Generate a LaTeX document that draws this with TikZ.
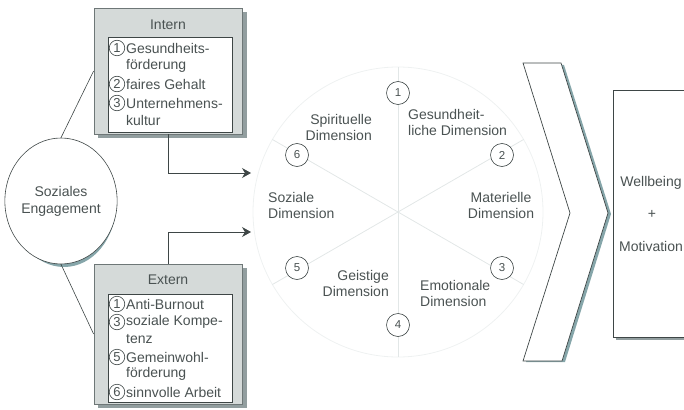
\documentclass[tikz,border=0pt]{standalone}
\usepackage{fontspec}
\setmainfont{Liberation Sans}
\usetikzlibrary{arrows.meta,shapes.geometric}
\definecolor{txt}{HTML}{4A5252}
\definecolor{ln}{HTML}{3E4646}
\definecolor{boxfill}{HTML}{D5DAD9}
\definecolor{boxedge}{HTML}{6E7777}
\definecolor{shad}{HTML}{929E9F}
\definecolor{eshad}{HTML}{86A6AA}
\definecolor{faint}{HTML}{EEF1F1}
\definecolor{spoke}{HTML}{E2E7E7}
\begin{document}
\begin{tikzpicture}[x=1pt,y=-1pt,
  outerbox/.style={draw=boxedge,line width=0.8pt,fill=boxfill,minimum width=#1},
  innerbox/.style={draw=ln,line width=0.7pt,fill=white,minimum width=#1},
  itemtxt/.style={text=txt,font=\fontsize{14}{16}\selectfont,anchor=west,inner sep=0pt},
  itemnum/.style={circle,draw=ln,line width=0.6pt,fill=white,text=txt,font=\fontsize{13}{13}\selectfont,inner sep=0pt,minimum size=15.5pt},
  wheelnum/.style={circle,draw=ln,line width=0.6pt,fill=white,text=txt,font=\fontsize{11.5}{11.5}\selectfont,inner sep=0pt,minimum size=23pt},
  dimtxt/.style={text=txt,font=\fontsize{14}{16}\selectfont,inner sep=0pt},
  title/.style={text=txt,font=\fontsize{14}{16}\selectfont,inner sep=0pt},
  conn/.style={draw=ln,line width=0.9pt},
  tip/.style={-{Stealth[length=9pt,width=10pt]}}
]
\useasboundingbox (0,0) rectangle (684,409);

% ---------- Intern box ----------
\fill[shad] (98,12) rectangle (247,138);
\node[outerbox=148pt,minimum height=126pt] (intern) at (168,71) {};
\node[innerbox=124pt,minimum height=95pt] (interni) at (170,84.5) {};
\node[title] (interntitle) at (168,25) {Intern};
\node[itemnum] (i1) at (117,48) {1};
\node[itemtxt] (i1a) at (126,48) {Gesundheits-};
\node[itemtxt] (i1b) at (126,66) {förderung};
\node[itemnum] (i2) at (117,84) {2};
\node[itemtxt] (i2a) at (126,84) {faires Gehalt};
\node[itemnum] (i3) at (117,103) {3};
\node[itemtxt] (i3a) at (126,103) {Unternehmens-};
\node[itemtxt] (i3b) at (126,120) {kultur};

% ---------- Extern box ----------
\fill[shad] (98,268) rectangle (247,408);
\node[outerbox=148pt,minimum height=140pt] (extern) at (168,334) {};
\node[innerbox=124pt,minimum height=108pt] (externi) at (170,348) {};
\node[title] (externtitle) at (168,280) {Extern};
\node[itemnum] (e1) at (117,304) {1};
\node[itemtxt] (e1a) at (126,304) {Anti-Burnout};
\node[itemnum] (e3) at (117,322) {3};
\node[itemtxt] (e3a) at (126,322) {soziale Kompe-};
\node[itemtxt] (e3b) at (126,339) {tenz};
\node[itemnum] (e5) at (117,357) {5};
\node[itemtxt] (e5a) at (126,357) {Gemeinwohl-};
\node[itemtxt] (e5b) at (126,374) {förderung};
\node[itemnum] (e6) at (117,392) {6};
\node[itemtxt] (e6a) at (126,392) {sinnvolle Arbeit};

% ---------- Ellipse ----------
\fill[eshad] (64,204) ellipse (52pt and 63pt);
\node[ellipse,draw=ln,line width=0.6pt,fill=white,minimum width=104pt,minimum height=126pt,inner sep=0pt,
      align=center,text=txt,font=\fontsize{14}{17}\selectfont] (ell) at (61,201) {Soziales\\Engagement};
\draw[ln,line width=0.6pt] (ell.north) -- (intern.west);
\draw[ln,line width=0.6pt] (ell.south) -- (extern.west);

% ---------- Connectors ----------
\coordinate (tipA) at (251,173);
\coordinate (tipB) at (251,232);
\draw[conn,tip] (intern.south) |- (tipA);
\draw[conn,tip] (extern.north) |- (tipB);

% ---------- Wheel ----------
\coordinate (c) at (398,212);
\draw[faint,line width=0.8pt] (c) circle (145pt);
\foreach \a in {90,30,-30,-90,-150,150}
  \draw[spoke,line width=0.8pt] (c) -- ++(\a:145);
\node[wheelnum] (n1) at (398,93) {1};
\node[wheelnum] (n2) at (502,155) {2};
\node[wheelnum] (n3) at (502,268) {3};
\node[wheelnum] (n4) at (398,325) {4};
\node[wheelnum] (n5) at (297,268) {5};
\node[wheelnum] (n6) at (297,155) {6};
\node[dimtxt,align=right,anchor=east] (d6) at (372,127) {Spirituelle\\Dimension};
\node[dimtxt,align=left,anchor=west] (d1) at (408,122.5) {Gesundheit-\\liche Dimension};
\node[dimtxt,align=center] (d2) at (501,205) {Materielle\\Dimension};
\node[dimtxt,align=left,anchor=west] (d3) at (420,293.5) {Emotionale\\Dimension};
\node[dimtxt,align=right,anchor=east] (d4) at (389,283.5) {Geistige\\Dimension};
\node[dimtxt,align=left,anchor=west] (d5) at (268,205) {Soziale\\Dimension};

% ---------- Chevron ----------
\fill[eshad] (526,65) -- (564,65) -- (611,214) -- (565,362) -- (526,362) -- (573,214) -- cycle;
\draw[ln,line width=0.7pt,fill=white] (523,63) -- (561,63) -- (608,213) -- (562,361) -- (523,361) -- (570,213) -- cycle;

% ---------- Result box ----------
\fill[shad] (616,93) rectangle (690,340);
\node[draw=ln,line width=0.7pt,fill=white,minimum width=73pt,minimum height=247pt,inner sep=0pt] (wb) at (649.5,213.5) {};
\node[dimtxt] (wb1) at (651,183) {Wellbeing};
\node[dimtxt] (wb2) at (652,214) {+};
\node[dimtxt] (wb3) at (651,246) {Motivation};
\end{tikzpicture}
\end{document}
